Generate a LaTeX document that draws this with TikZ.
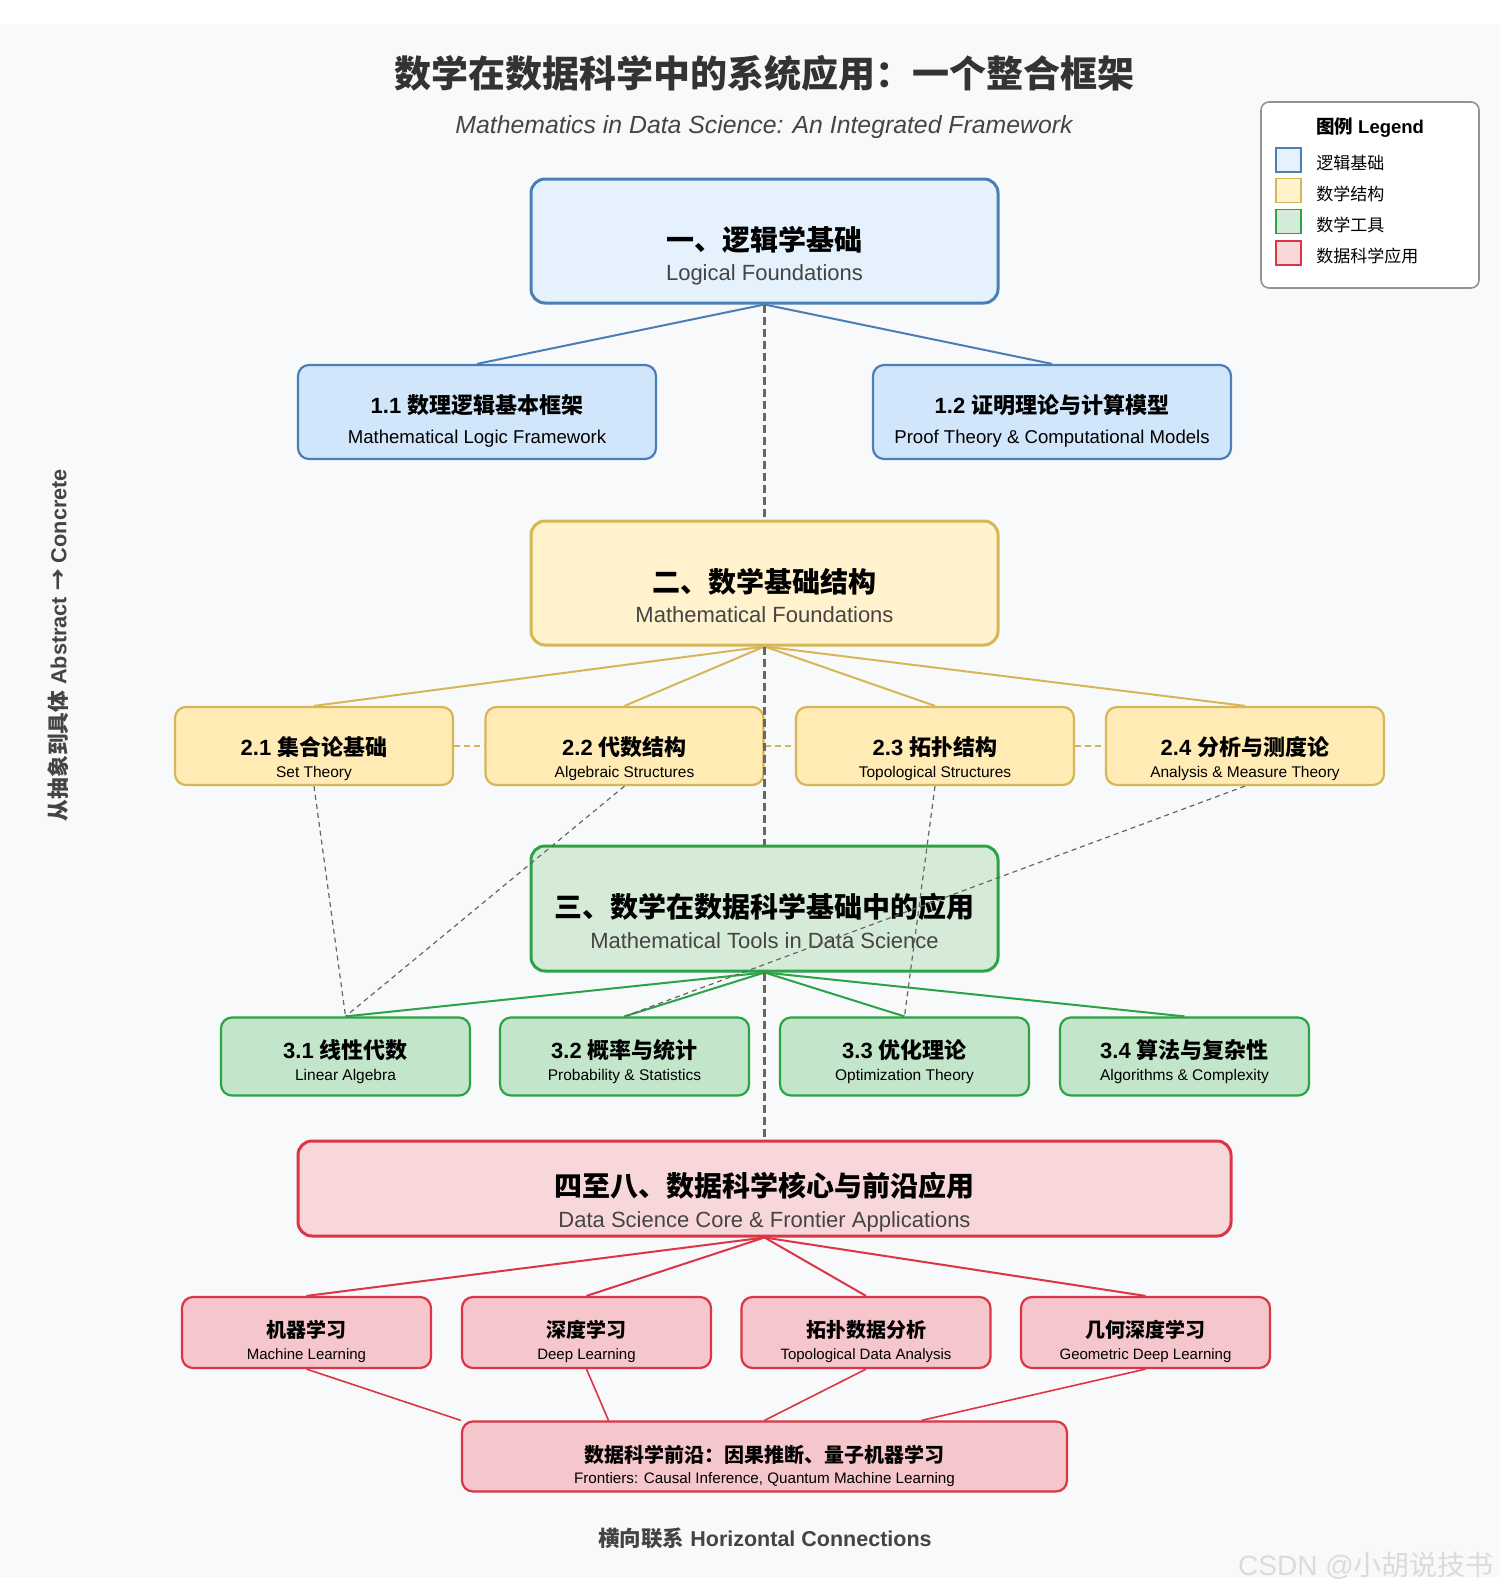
\documentclass[tikz,border=0pt]{standalone}
\usepackage{fontspec}
\setmainfont{Liberation Sans}
\newfontfamily\cjk{Noto Sans CJK SC}
\usetikzlibrary{calc}
\definecolor{bgc}{HTML}{F8F9FA}
\definecolor{bluD}{HTML}{4A7FB5}
\definecolor{bluM}{HTML}{E5F1FD}
\definecolor{bluS}{HTML}{D1E6FA}
\definecolor{yelD}{HTML}{D6B656}
\definecolor{yelM}{HTML}{FFF2CC}
\definecolor{yelS}{HTML}{FFEBB3}
\definecolor{grnD}{HTML}{2BA346}
\definecolor{grnM}{HTML}{D5EBD8}
\definecolor{grnS}{HTML}{C3E6CB}
\definecolor{redD}{HTML}{DC3545}
\definecolor{redM}{HTML}{F8D7DA}
\definecolor{redS}{HTML}{F5C6CB}
\definecolor{txtG}{HTML}{444444}
\definecolor{ttlG}{HTML}{333333}
\definecolor{lnG}{HTML}{666666}
\tikzset{
  mainbox/.style={draw, line width=1.5pt, rounded corners=7pt, inner sep=0pt},
  subbox/.style={draw, line width=1.1pt, rounded corners=5.5pt, inner sep=0pt},
  lbl/.style={inner sep=0pt, anchor=center, align=center},
  tree/.style={line width=1pt},
  cross/.style={draw=lnG, line width=0.6pt, dash pattern=on 2.5pt off 2pt},
  hdash/.style={draw=yelD, line width=0.8pt, dash pattern=on 3pt off 2pt},
  vdash/.style={draw=lnG, line width=1.5pt, dash pattern=on 4pt off 2pt},
  legsq/.style={draw, line width=0.8pt, minimum width=12.5pt, minimum height=12pt, inner sep=0pt},
}
\begin{document}
\begin{tikzpicture}[x=0.5pt,y=-0.5pt]
\useasboundingbox (0,0) rectangle (1500,1595);
\fill[white] (0,0) rectangle (1500,1595);
\fill[bgc] (0,24) rectangle (1500,1577);

% titles
\node[lbl, text=ttlG, font=\cjk\bfseries\fontsize{18.5pt}{20pt}\selectfont] (title) at (764,73) {数学在数据科学中的系统应用：一个整合框架};
\node[lbl, text=txtG, font=\itshape\fontsize{12.4pt}{14pt}\selectfont] (subtitle) at (764,127) {Mathematics in Data Science: An Integrated Framework};

% legend
\node[draw=gray!85, fill=white, line width=0.8pt, rounded corners=4pt, minimum width=109pt, minimum height=93pt, inner sep=0pt] (legend) at (1370,195) {};
\node[lbl, font=\bfseries\fontsize{9.25pt}{11pt}\selectfont] (legt) at (1370,128) {{\cjk 图例} Legend};
\node[legsq, draw=bluD, fill=bluM] (lg1) at (1288.5,160) {};
\node[legsq, draw=yelD, fill=yelM] (lg2) at (1288.5,190.5) {};
\node[legsq, draw=grnD, fill=grnM] (lg3) at (1288.5,221.5) {};
\node[legsq, draw=redD, fill=redM] (lg4) at (1288.5,253) {};
\begin{scope}[every node/.style={inner sep=0pt, anchor=west, font=\cjk\fontsize{8.5pt}{10pt}\selectfont}]
\node (lt1) at (1316,163) {逻辑基础};
\node (lt2) at (1316,194) {数学结构};
\node (lt3) at (1316,225) {数学工具};
\node (lt4) at (1316,256) {数据科学应用};
\end{scope}

% side & bottom text
\node[lbl, rotate=90, text=txtG, font=\bfseries\fontsize{10.85pt}{12pt}\selectfont] (side) at (58,645) {{\cjk 从抽象到具体} Abstract {\cjk →} Concrete};
\node[lbl, text=txtG, font=\bfseries\fontsize{10.75pt}{12pt}\selectfont] (bottom) at (765,1538) {{\cjk 横向联系} Horizontal Connections};
\node[lbl, text=gray!28, font=\fontsize{14pt}{16pt}\selectfont] (wm) at (1366,1566) {CSDN @{\cjk 小胡说技书}};

% ===== level 1
\node[mainbox, draw=bluD, fill=bluM, minimum width=233.5pt, minimum height=62pt] (b1) at (764.5,241) {};
\node[lbl, font=\cjk\bfseries\fontsize{14pt}{16pt}\selectfont] at (764.5,239.5) {一、逻辑学基础};
\node[lbl, text=txtG, font=\fontsize{11pt}{13pt}\selectfont] at (764.5,275) {Logical Foundations};

\node[subbox, draw=bluD, fill=bluS, minimum width=179pt, minimum height=47pt] (b11) at (477,412) {};
\node[lbl, font=\bfseries\fontsize{11pt}{13pt}\selectfont] at (477,405) {1.1 {\cjk 数理逻辑基本框架}};
\node[lbl, font=\fontsize{9.3pt}{11pt}\selectfont] at (477,439) {Mathematical Logic Framework};
\node[subbox, draw=bluD, fill=bluS, minimum width=179pt, minimum height=47pt] (b12) at (1052,412) {};
\node[lbl, font=\bfseries\fontsize{11pt}{13pt}\selectfont] at (1052,405) {1.2 {\cjk 证明理论与计算模型}};
\node[lbl, font=\fontsize{9.3pt}{11pt}\selectfont] at (1052,439) {Proof Theory \& Computational Models};

% ===== level 2
\node[mainbox, draw=yelD, fill=yelM, minimum width=233.5pt, minimum height=62pt] (b2) at (764.5,583) {};
\node[lbl, font=\cjk\bfseries\fontsize{14pt}{16pt}\selectfont] at (764.5,581.5) {二、数学基础结构};
\node[lbl, text=txtG, font=\fontsize{11pt}{13pt}\selectfont] at (764.5,615) {Mathematical Foundations};

\foreach \n/\x/\a/\b in {21/314/2.1/集合论基础, 22/624.5/2.2/代数结构, 23/935/2.3/拓扑结构, 24/1245/2.4/分析与测度论}{
  \node[subbox, draw=yelD, fill=yelS, minimum width=139pt, minimum height=39pt] (b\n) at (\x,746) {};
  \node[lbl, font=\bfseries\fontsize{11pt}{13pt}\selectfont] at (\x,747) {\a\ {\cjk \b}};
}
\node[lbl, font=\fontsize{7.75pt}{9pt}\selectfont] at (314,773) {Set Theory};
\node[lbl, font=\fontsize{7.75pt}{9pt}\selectfont] at (624.5,773) {Algebraic Structures};
\node[lbl, font=\fontsize{7.75pt}{9pt}\selectfont] at (935,773) {Topological Structures};
\node[lbl, font=\fontsize{7.75pt}{9pt}\selectfont] at (1245,773) {Analysis \& Measure Theory};

% ===== level 3
\node[mainbox, draw=grnD, fill=grnM, minimum width=233.5pt, minimum height=62.5pt] (b3) at (764.5,908.5) {};
\node[lbl, font=\cjk\bfseries\fontsize{14pt}{16pt}\selectfont] at (764.5,907) {三、数学在数据科学基础中的应用};
\node[lbl, text=txtG, font=\fontsize{11pt}{13pt}\selectfont] at (764.5,941) {Mathematical Tools in Data Science};

\foreach \n/\x/\a/\b in {31/345.5/3.1/线性代数, 32/624.5/3.2/概率与统计, 33/904.5/3.3/优化理论, 34/1184.5/3.4/算法与复杂性}{
  \node[subbox, draw=grnD, fill=grnS, minimum width=124.5pt, minimum height=39pt] (b\n) at (\x,1056.5) {};
  \node[lbl, font=\bfseries\fontsize{11pt}{13pt}\selectfont] at (\x,1050) {\a\ {\cjk \b}};
}
\node[lbl, font=\fontsize{7.75pt}{9pt}\selectfont] at (345.5,1076) {Linear Algebra};
\node[lbl, font=\fontsize{7.75pt}{9pt}\selectfont] at (624.5,1076) {Probability \& Statistics};
\node[lbl, font=\fontsize{7.75pt}{9pt}\selectfont] at (904.5,1076) {Optimization Theory};
\node[lbl, font=\fontsize{7.75pt}{9pt}\selectfont] at (1184.5,1076) {Algorithms \& Complexity};

% ===== level 4
\node[mainbox, draw=redD, fill=redM, minimum width=466.5pt, minimum height=47.5pt] (b4) at (764.5,1188.5) {};
\node[lbl, font=\cjk\bfseries\fontsize{14pt}{16pt}\selectfont] at (764.5,1186) {四至八、数据科学核心与前沿应用};
\node[lbl, text=txtG, font=\fontsize{11pt}{13pt}\selectfont] at (764.5,1222) {Data Science Core \& Frontier Applications};

\foreach \n/\x/\b/\e in {41/306.5/机器学习/Machine Learning, 42/586.5/深度学习/Deep Learning, 43/866/拓扑数据分析/Topological Data Analysis, 44/1145.5/几何深度学习/Geometric Deep Learning}{
  \node[subbox, draw=redD, fill=redS, minimum width=124.5pt, minimum height=35.5pt] (b\n) at (\x,1332.5) {};
  \node[lbl, font=\cjk\bfseries\fontsize{10pt}{12pt}\selectfont] at (\x,1330) {\b};
  \node[lbl, font=\fontsize{7.5pt}{9pt}\selectfont] at (\x,1356) {\e};
}

\node[subbox, draw=redD, fill=redS, minimum width=302.5pt, minimum height=35pt] (fr) at (764.5,1456.5) {};
\node[lbl, font=\cjk\bfseries\fontsize{10pt}{12pt}\selectfont] at (764.5,1455) {数据科学前沿：因果推断、量子机器学习};
\node[lbl, font=\fontsize{7.6pt}{9pt}\selectfont] at (764.5,1480) {Frontiers: Causal Inference, Quantum Machine Learning};

% ===== tree connectors
\draw[tree, draw=bluD] (b1.south) -- (b11.north);
\draw[tree, draw=bluD] (b1.south) -- (b12.north);
\foreach \n in {21,22,23,24} \draw[tree, draw=yelD] (b2.south) -- (b\n.north);
\foreach \n in {31,32,33,34} \draw[tree, draw=grnD] (b3.south) -- (b\n.north);
\foreach \n in {41,42,43,44} \draw[tree, draw=redD] (b4.south) -- (b\n.north);
\draw[tree, draw=redD, line width=0.8pt] (b41.south) -- (fr.north west);
\draw[tree, draw=redD, line width=0.8pt] (b42.south) -- ($(fr.north)+(-156,0)$);
\draw[tree, draw=redD, line width=0.8pt] (b43.south) -- (fr.north);
\draw[tree, draw=redD, line width=0.8pt] (b44.south) -- ($(fr.north)+(157,0)$);

% horizontal yellow dashed
\draw[hdash] (b21.east) -- (b22.west);
\draw[hdash] (b22.east) -- (b23.west);
\draw[hdash] (b23.east) -- (b24.west);

% central dashed spine
\draw[vdash] (b1.south) -- (b2.north);
\draw[vdash] (b2.south) -- (b3.north);
\draw[vdash] (b3.south) -- (b4.north);

% cross dashed links
\draw[cross] (b21.south) -- (b31.north);
\draw[cross] (b22.south) -- (b31.north);
\draw[cross] (b23.south) -- (b33.north);
\draw[cross] (b24.south) -- (b32.north);
\end{tikzpicture}
\end{document}
